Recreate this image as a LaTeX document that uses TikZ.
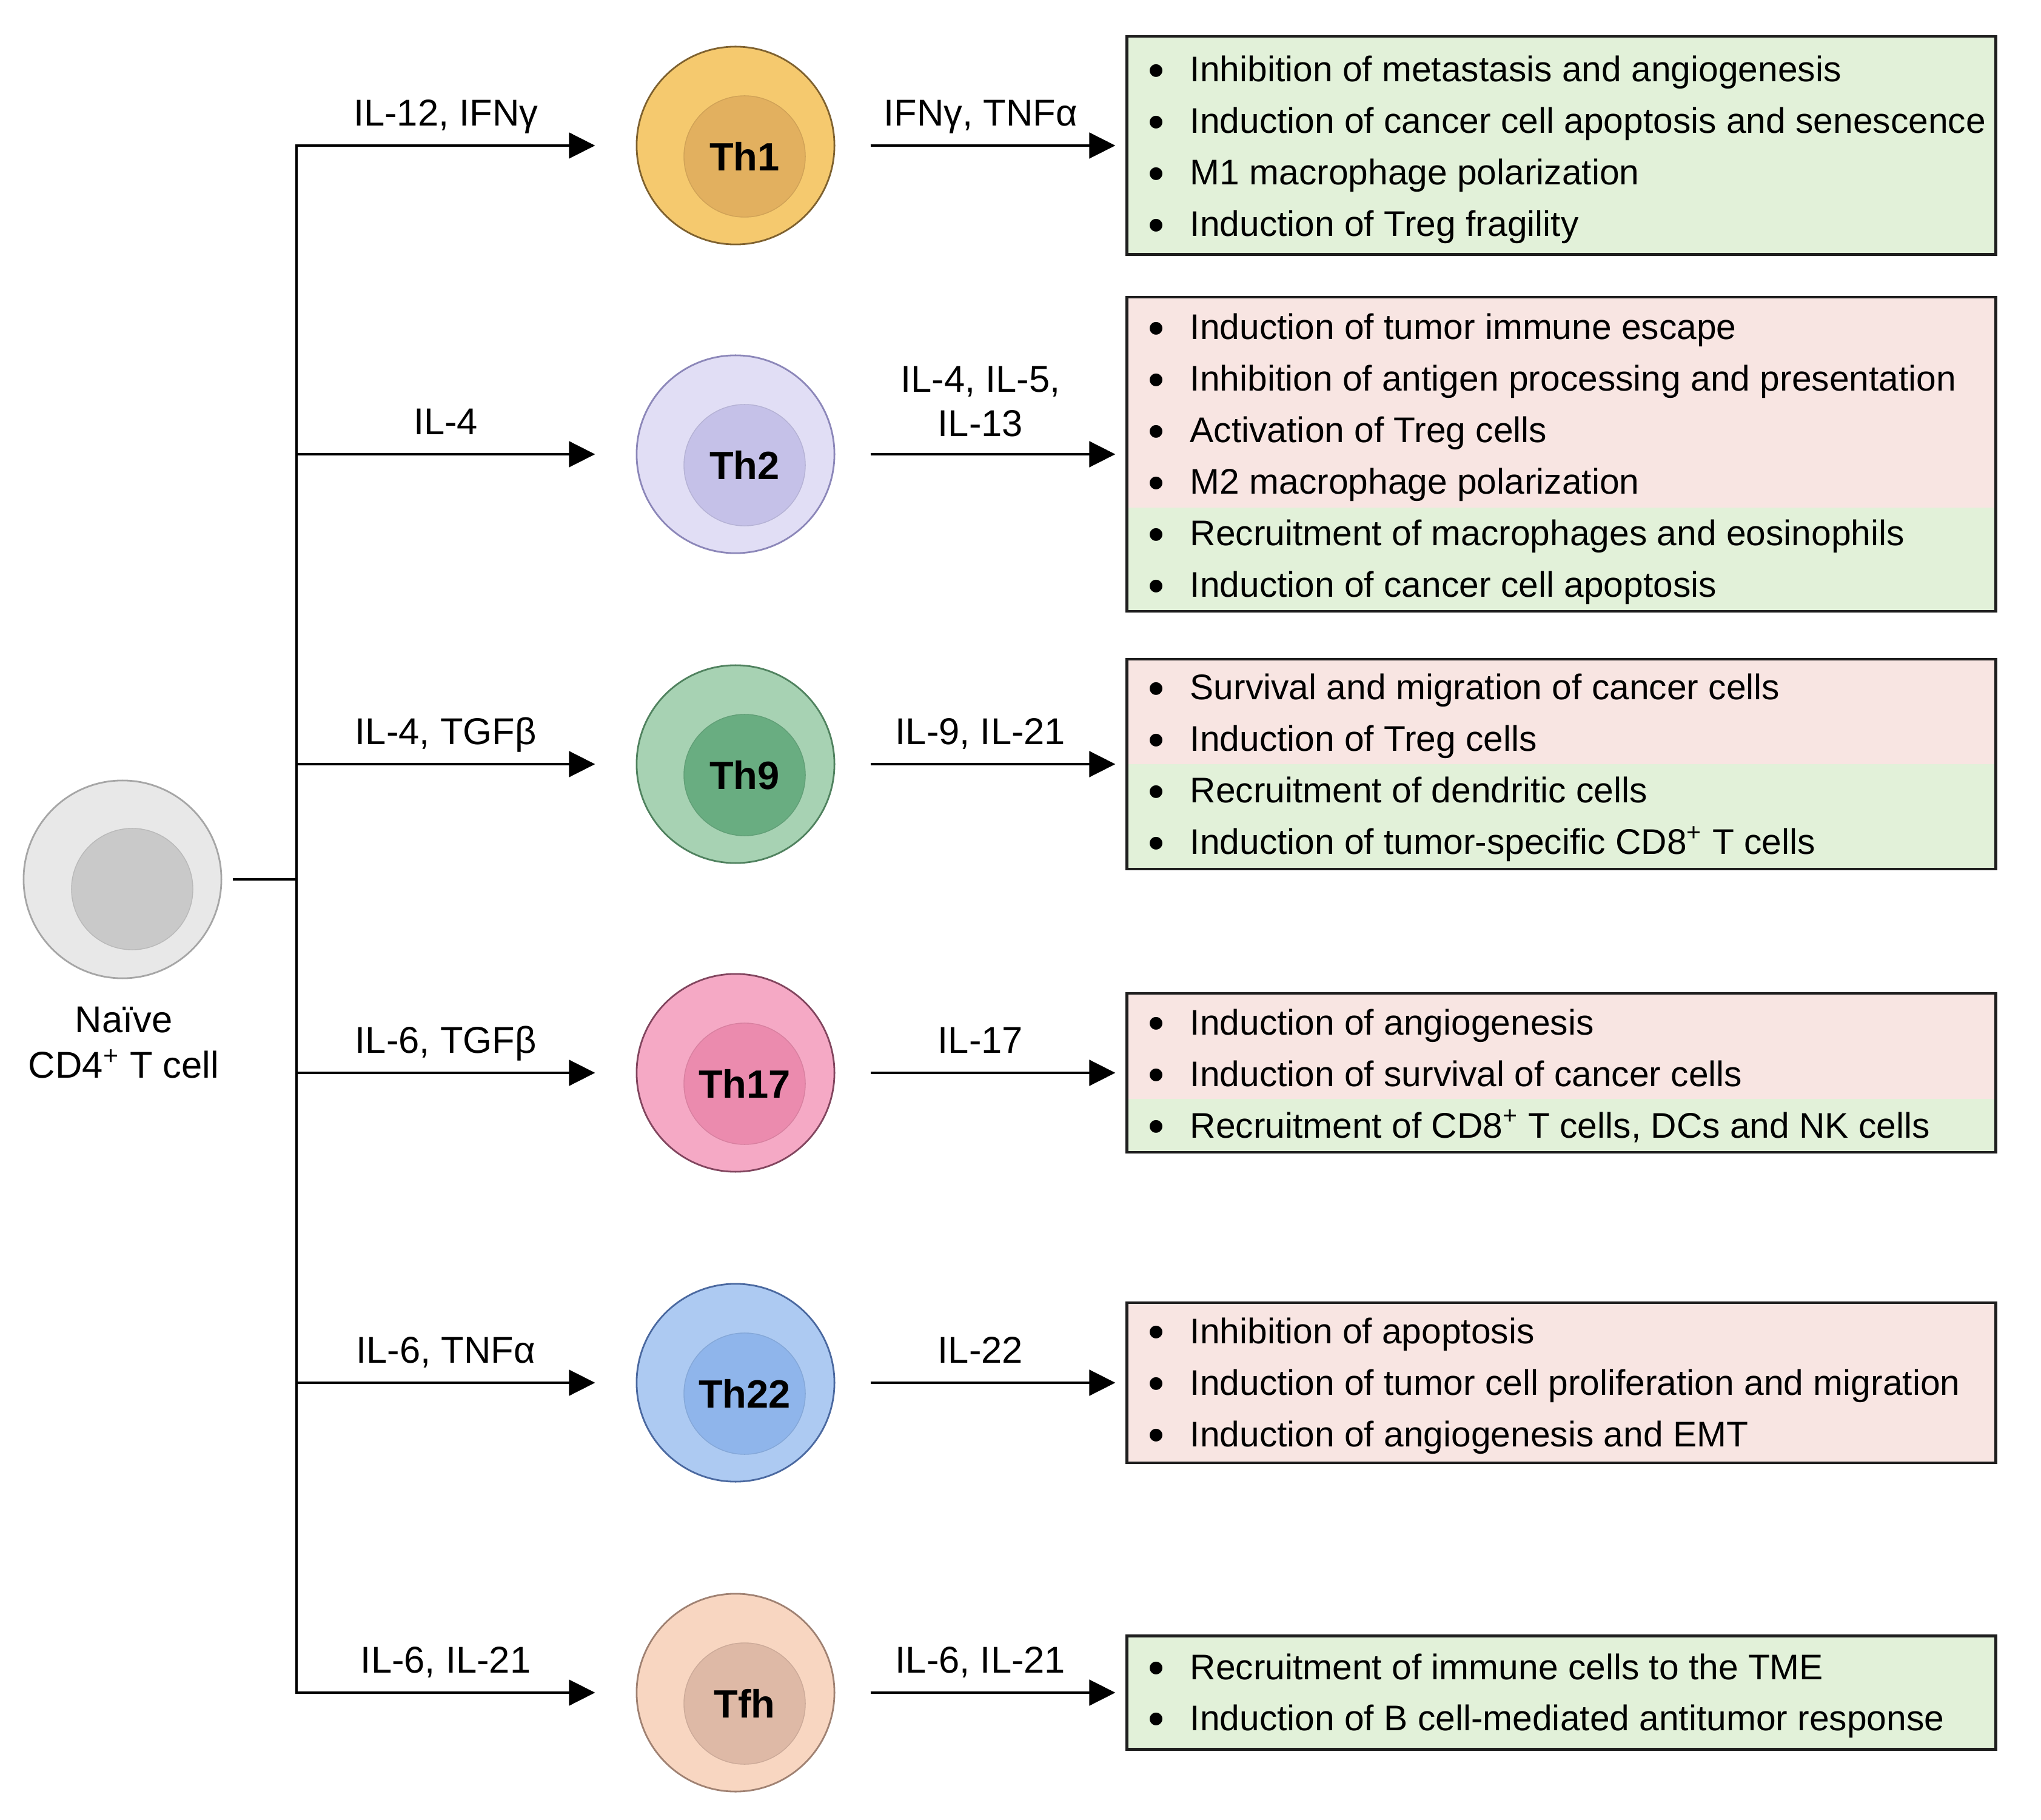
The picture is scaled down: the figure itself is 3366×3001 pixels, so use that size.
\documentclass[tikz,border=0pt]{standalone}
\usepackage{fontspec}
\setmainfont{Liberation Sans}
\usetikzlibrary{arrows.meta}

\definecolor{naiveout}{HTML}{E8E8E8}
\definecolor{naivein}{HTML}{C9C9C9}
\definecolor{naivebd}{HTML}{A6A6A6}
\definecolor{thAout}{HTML}{F5C96E}
\definecolor{thAin}{HTML}{E2B05F}
\definecolor{thAbd}{HTML}{7F6230}
\definecolor{thBout}{HTML}{E1DEF5}
\definecolor{thBin}{HTML}{C5C1E8}
\definecolor{thBbd}{HTML}{8C87B9}
\definecolor{thCout}{HTML}{A7D2B3}
\definecolor{thCin}{HTML}{69AD81}
\definecolor{thCbd}{HTML}{50825F}
\definecolor{thDout}{HTML}{F5A9C5}
\definecolor{thDin}{HTML}{EB8BAE}
\definecolor{thDbd}{HTML}{82465F}
\definecolor{thEout}{HTML}{ADCAF2}
\definecolor{thEin}{HTML}{8FB5EB}
\definecolor{thEbd}{HTML}{4B69A0}
\definecolor{thFout}{HTML}{F8D6C1}
\definecolor{thFin}{HTML}{DEB9A6}
\definecolor{thFbd}{HTML}{A08273}
\definecolor{greenbg}{HTML}{E2F1D9}
\definecolor{pinkbg}{HTML}{F8E5E2}
\definecolor{boxline}{HTML}{1E1E1E}

\begin{document}
\begin{tikzpicture}[x = 0.01cm, y = -0.01cm]
        \tikzstyle{cell} = [shape = circle, minimum size = 3.26cm, inner sep = 0pt, line width = 0.8pt]
        \tikzstyle{nucleus} = [shape = circle, minimum size = 2cm, inner sep = 0pt, line width = 0.4pt, font = \fontsize{18.5}{22}\selectfont\bfseries]
        \tikzstyle{arr} = [line width = 1.4pt, -{Triangle[length = 0.43cm, width = 0.42cm]}]
        \tikzstyle{lab} = [font = \fontsize{17.5}{20.8}\selectfont, inner sep = 0pt, text depth = 0pt, anchor = south, align = center, yshift = 0.3cm]
        \tikzstyle{box} = [shape = rectangle, draw = boxline, line width = 1.2pt, minimum width = 14.32cm, inner sep = 0pt]
        \tikzstyle{item} = [font = \fontsize{16.7}{20}\selectfont, anchor = base west, inner sep = 0pt, execute at begin node = {\llap{\raisebox{-2.2pt}{\fontsize{22}{20}\selectfont\textbullet}\hspace{0.42cm}}}]
        \useasboundingbox (0, 0) rectangle (3366, 3001);
        \node[cell, fill = naiveout, draw = naivebd] (naive) at (202, 1450) {};
        \node[nucleus, fill = naivein, draw = naivein!92!black] (naive-n) at (218, 1466) {};
        \node[lab, anchor = north, yshift = 0pt, font = \fontsize{17.5}{21.6}\selectfont] (naive-lab) at (204, 1689) {Naïve\\CD4\textsuperscript{+} T cell};
        \node[cell, fill = thAout, draw = thAbd] (Th-1) at (1213, 240) {};
        \node[nucleus, fill = thAin, draw = thAin!92!black] (Th-1-n) at (1228, 258) {Th1};
        \node[cell, fill = thBout, draw = thBbd] (Th-2) at (1213, 749) {};
        \node[nucleus, fill = thBin, draw = thBin!92!black] (Th-2-n) at (1228, 767) {Th2};
        \node[cell, fill = thCout, draw = thCbd] (Th-3) at (1213, 1260) {};
        \node[nucleus, fill = thCin, draw = thCin!92!black] (Th-3-n) at (1228, 1278) {Th9};
        \node[cell, fill = thDout, draw = thDbd] (Th-4) at (1213, 1769) {};
        \node[nucleus, fill = thDin, draw = thDin!92!black] (Th-4-n) at (1228, 1787) {Th17};
        \node[cell, fill = thEout, draw = thEbd] (Th-5) at (1213, 2280) {};
        \node[nucleus, fill = thEin, draw = thEin!92!black] (Th-5-n) at (1228, 2298) {Th22};
        \node[cell, fill = thFout, draw = thFbd] (Th-6) at (1213, 2791) {};
        \node[nucleus, fill = thFin, draw = thFin!92!black] (Th-6-n) at (1228, 2809) {Tfh};
        \fill[pinkbg] (1859, 490) rectangle (3291, 837);
        \fill[greenbg] (1859, 837) rectangle (3291, 1008);
        \fill[pinkbg] (1859, 1087) rectangle (3291, 1260);
        \fill[greenbg] (1859, 1260) rectangle (3291, 1433);
        \fill[pinkbg] (1859, 1638) rectangle (3291, 1812);
        \fill[greenbg] (1859, 1812) rectangle (3291, 1900);
        \node[box, fill = greenbg, minimum height = 3.59cm] (box-1) at (2575, 240) {};
        \node[box, minimum height = 5.18cm] (box-2) at (2575, 749) {};
        \node[box, minimum height = 3.46cm] (box-3) at (2575, 1260) {};
        \node[box, minimum height = 2.62cm] (box-4) at (2575, 1769) {};
        \node[box, fill = pinkbg, minimum height = 2.64cm] (box-5) at (2575, 2280) {};
        \node[box, fill = greenbg, minimum height = 1.87cm] (box-6) at (2575, 2791) {};
        \coordinate (J-0) at (489, 1450);
        \coordinate (J-1) at (489, 240);
        \coordinate (J-2) at (489, 749);
        \coordinate (J-3) at (489, 1260);
        \coordinate (J-4) at (489, 1769);
        \coordinate (J-5) at (489, 2280);
        \coordinate (J-6) at (489, 2791);
        \draw[line width = 1.4pt, shorten <= 0.17cm] (naive) -- (J-0);
        \draw[line width = 1.4pt, line cap = rect] (J-1) -- (J-6);
        \draw[arr, shorten >= 0.67cm] (J-1) -- node[lab, pos = 0.44] {IL-12, IFNγ} (Th-1);
        \draw[arr, shorten >= 0.67cm] (J-2) -- node[lab, pos = 0.44] {IL-4} (Th-2);
        \draw[arr, shorten >= 0.67cm] (J-3) -- node[lab, pos = 0.44] {IL-4, TGFβ} (Th-3);
        \draw[arr, shorten >= 0.67cm] (J-4) -- node[lab, pos = 0.44] {IL-6, TGFβ} (Th-4);
        \draw[arr, shorten >= 0.67cm] (J-5) -- node[lab, pos = 0.44] {IL-6, TNFα} (Th-5);
        \draw[arr, shorten >= 0.67cm] (J-6) -- node[lab, pos = 0.44] {IL-6, IL-21} (Th-6);
        \draw[arr, shorten <= 0.58cm, shorten >= 0.17cm] (Th-1) -- node[lab] {IFNγ, TNFα} (box-1);
        \draw[arr, shorten <= 0.58cm, shorten >= 0.17cm] (Th-2) -- node[lab, yshift = -0.03cm] {IL-4, IL-5,\\IL-13} (box-2);
        \draw[arr, shorten <= 0.58cm, shorten >= 0.17cm] (Th-3) -- node[lab] {IL-9, IL-21} (box-3);
        \draw[arr, shorten <= 0.58cm, shorten >= 0.17cm] (Th-4) -- node[lab] {IL-17} (box-4);
        \draw[arr, shorten <= 0.58cm, shorten >= 0.17cm] (Th-5) -- node[lab] {IL-22} (box-5);
        \draw[arr, shorten <= 0.58cm, shorten >= 0.17cm] (Th-6) -- node[lab] {IL-6, IL-21} (box-6);
        \node[item] (box-1-a) at (1962, 135) {Inhibition of metastasis and angiogenesis};
        \node[item] (box-1-b) at (1962, 220) {Induction of cancer cell apoptosis and senescence};
        \node[item] (box-1-c) at (1962, 305) {M1 macrophage polarization};
        \node[item] (box-1-d) at (1962, 390) {Induction of Treg fragility};
        \node[item] (box-2-a) at (1962, 560) {Induction of tumor immune escape};
        \node[item] (box-2-b) at (1962, 645) {Inhibition of antigen processing and presentation};
        \node[item] (box-2-c) at (1962, 730) {Activation of Treg cells};
        \node[item] (box-2-d) at (1962, 815) {M2 macrophage polarization};
        \node[item] (box-2-e) at (1962, 900) {Recruitment of macrophages and eosinophils};
        \node[item] (box-2-f) at (1962, 985) {Induction of cancer cell apoptosis};
        \node[item] (box-3-a) at (1962, 1154) {Survival and migration of cancer cells};
        \node[item] (box-3-b) at (1962, 1239) {Induction of Treg cells};
        \node[item] (box-3-c) at (1962, 1324) {Recruitment of dendritic cells};
        \node[item] (box-3-d) at (1962, 1409) {Induction of tumor-specific CD8\textsuperscript{+} T cells};
        \node[item] (box-4-a) at (1962, 1706) {Induction of angiogenesis};
        \node[item] (box-4-b) at (1962, 1791) {Induction of survival of cancer cells};
        \node[item] (box-4-c) at (1962, 1876) {Recruitment of CD8\textsuperscript{+} T cells, DCs and NK cells};
        \node[item] (box-5-a) at (1962, 2215) {Inhibition of apoptosis};
        \node[item] (box-5-b) at (1962, 2300) {Induction of tumor cell proliferation and migration};
        \node[item] (box-5-c) at (1962, 2385) {Induction of angiogenesis and EMT};
        \node[item] (box-6-a) at (1962, 2769) {Recruitment of immune cells to the TME};
        \node[item] (box-6-b) at (1962, 2853) {Induction of B cell-mediated antitumor response};
\end{tikzpicture}
\end{document}
